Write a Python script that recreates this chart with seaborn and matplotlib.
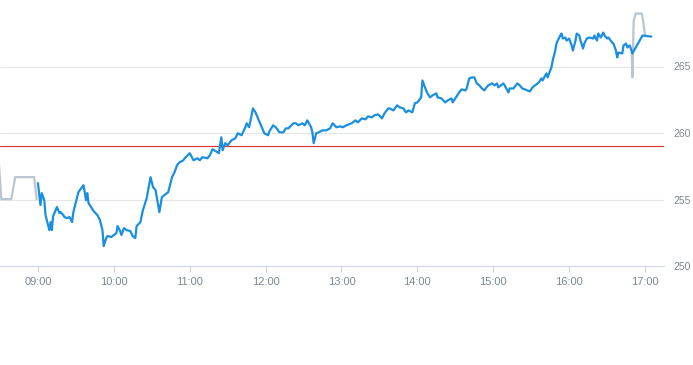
"""Intraday price chart: session line, pre/post market, previous close."""

import matplotlib
import matplotlib.dates as mdates
import matplotlib.pyplot as plt
import pandas as pd
import seaborn as sns

matplotlib.use("Agg")

DAY = pd.Timestamp("2024-01-02 09:00")

# minutes after 09:00 and price, regular session
session_minutes = [
    0, 2, 3, 5, 6, 9, 10, 11, 12, 13, 15, 17, 18, 20, 21, 23, 25, 27, 28, 30,
    32, 36, 37, 38, 39, 40, 42, 44, 47, 49, 51, 52, 54, 55, 58, 59, 62, 63, 65, 66,
    68, 70, 73, 75, 77, 78, 81, 83, 86, 89, 91, 93, 96, 98, 100, 103, 106, 108, 110, 112,
    115, 116, 120, 123, 126, 128, 130, 134, 136, 138, 142, 143, 145, 146, 148, 150, 153, 156, 158, 161,
    164, 165, 167, 170, 172, 174, 177, 179, 182, 183, 186, 188, 191, 194, 196, 198, 202, 204, 206, 209,
    211, 213, 216, 217, 218, 220, 222, 225, 228, 231, 233, 236, 239, 241, 244, 248, 251, 253, 256, 259,
    261, 264, 266, 269, 272, 274, 277, 278, 281, 284, 286, 289, 291, 293, 296, 298, 300, 303, 304, 306,
    308, 310, 312, 315, 316, 319, 322, 324, 327, 328, 330, 333, 335, 338, 339, 341, 343, 345, 347, 349,
    351, 353, 354, 356, 359, 361, 363, 364, 368, 369, 372, 373, 376, 379, 381, 383, 387, 389, 391, 395,
    396, 398, 399, 402, 403, 405, 406, 407, 409, 410, 411, 413, 414, 415, 417, 418, 420, 422, 423, 425,
    426, 428, 429, 431, 432, 434, 436, 439, 440, 442, 443, 445, 447, 448, 450, 451, 454, 455, 457, 458,
    459, 462, 463, 465, 466, 468, 470, 478, 485,
]
session_prices = [
    256.23, 254.58, 255.48, 254.95, 253.83, 252.70, 253.30, 252.70, 253.75, 253.98,
    254.43, 253.98, 254.05, 253.83, 253.68, 253.60, 253.68, 253.30, 254.05, 254.80,
    255.55, 256.08, 255.55, 254.95, 255.48, 254.73, 254.43, 254.13, 253.83, 253.45,
    252.70, 251.50, 252.10, 252.25, 252.18, 252.25, 252.48, 253.00, 252.63, 252.33,
    252.85, 252.70, 252.63, 252.25, 252.10, 253.00, 253.30, 254.20, 255.10, 256.68,
    255.93, 255.70, 254.05, 255.18, 255.33, 255.55, 256.68, 257.05, 257.58, 257.80,
    257.95, 258.10, 258.48, 257.95, 258.10, 257.95, 258.18, 258.10, 258.33, 258.78,
    258.55, 258.48, 259.68, 258.70, 259.23, 259.08, 259.45, 259.60, 259.98, 259.83,
    260.43, 260.73, 260.43, 261.85, 261.55, 261.10, 260.43, 259.98, 259.83, 260.13,
    260.58, 260.43, 260.05, 260.05, 260.35, 260.35, 260.73, 260.73, 260.58, 260.73,
    260.58, 260.95, 260.43, 260.05, 259.23, 259.98, 260.05, 260.20, 260.20, 260.35,
    260.73, 260.43, 260.50, 260.43, 260.58, 260.73, 260.95, 260.80, 261.10, 261.03,
    261.25, 261.18, 261.33, 261.40, 261.10, 261.48, 261.85, 261.85, 261.70, 262.08,
    261.93, 261.85, 261.55, 261.70, 261.55, 262.23, 262.30, 262.68, 263.95, 263.43,
    262.98, 262.68, 262.83, 262.98, 262.68, 262.60, 262.30, 262.45, 262.60, 262.30,
    262.60, 263.05, 263.28, 263.20, 263.35, 264.10, 264.18, 264.18, 263.73, 263.58,
    263.35, 263.20, 263.35, 263.58, 263.73, 263.58, 263.73, 263.43, 263.73, 263.58,
    263.05, 263.35, 263.35, 263.73, 263.58, 263.35, 263.20, 263.13, 263.43, 263.73,
    263.80, 264.10, 263.95, 264.48, 264.18, 264.70, 264.93, 265.45, 266.20, 266.73,
    266.95, 267.33, 267.48, 267.10, 267.18, 266.95, 267.10, 266.58, 266.20, 266.95,
    267.48, 267.33, 266.95, 266.35, 266.73, 267.10, 267.18, 267.10, 267.33, 266.95,
    267.48, 267.18, 267.55, 267.33, 267.10, 267.18, 266.80, 266.73, 266.20, 265.68,
    266.05, 265.98, 266.58, 266.73, 266.43, 266.58, 265.98, 267.33, 267.25,
]

# pre-market and after-hours trades
pre_minutes = [-31, -29, -21, -18, -3, -1]
pre_prices = [257.95, 255.03, 255.03, 256.68, 256.68, 255.03]
post_minutes = [469.5, 470, 471, 472.5, 477.5, 478.5, 480]
post_prices = [265.98, 264.18, 268.40, 268.98, 268.98, 268.45, 267.33]

prev_close = 259.0
y_ticks = [250, 255, 260, 265]


def to_frame(minutes, prices):
    return pd.DataFrame({
        "time": DAY + pd.to_timedelta(minutes, unit="m"),
        "price": prices,
    })


def main():
    sns.set_theme(style="white")
    plt.rcParams["font.family"] = ["Liberation Sans", "DejaVu Sans"]

    fig = plt.figure(figsize=(6.93, 3.65), dpi=100)
    ax = fig.add_axes([0, 99 / 365, 664 / 693, 266 / 365])

    grey = "#b9c6d1"
    blue = "#1a8fe0"

    for y in y_ticks[1:]:
        ax.axhline(y, color="#e6e6e6", linewidth=0.8, zorder=0)
    ax.axhline(prev_close, color="#e0302b", linewidth=0.8, zorder=1)

    sns.lineplot(data=to_frame(pre_minutes, pre_prices), x="time", y="price",
                 color=grey, linewidth=1.6, ax=ax, zorder=2)
    sns.lineplot(data=to_frame(post_minutes, post_prices), x="time", y="price",
                 color=grey, linewidth=1.6, ax=ax, zorder=2)
    sns.lineplot(data=to_frame(session_minutes, session_prices), x="time", y="price",
                 color=blue, linewidth=1.6, ax=ax, zorder=3)

    ax.set_xlim(DAY - pd.Timedelta(minutes=30), DAY + pd.Timedelta(hours=8, minutes=15))
    ax.set_ylim(250, 270)
    ax.set_xlabel("")
    ax.set_ylabel("")

    ax.xaxis.set_major_locator(mdates.HourLocator())
    ax.xaxis.set_major_formatter(mdates.DateFormatter("%H:%M"))
    ax.yaxis.tick_right()
    ax.set_yticks(y_ticks)

    for side in ["top", "left", "right"]:
        ax.spines[side].set_visible(False)
    ax.spines["bottom"].set_color("#ccd6eb")
    ax.spines["bottom"].set_linewidth(0.8)

    label_color = "#7d8893"
    ax.tick_params(axis="x", bottom=True, length=4, width=0.8, color="#ccd6eb",
                   pad=4, labelsize=8, labelcolor=label_color)
    ax.tick_params(axis="y", right=False, left=False, length=0, pad=7,
                   labelsize=7.5, labelcolor=label_color)

    fig.savefig("out.png", dpi=100)
    plt.close(fig)


if __name__ == "__main__":
    main()
